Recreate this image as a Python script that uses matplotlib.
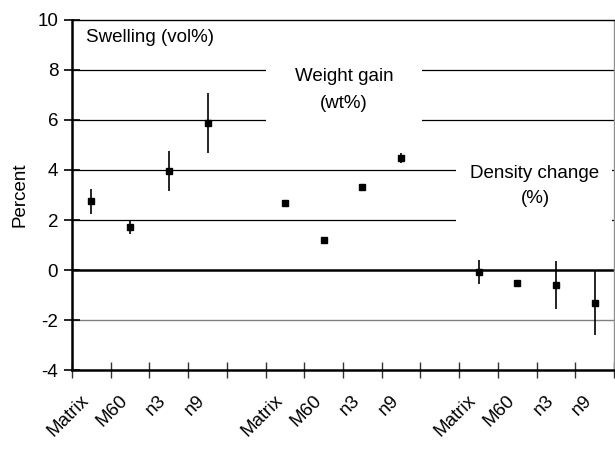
import matplotlib
matplotlib.use("Agg")
import matplotlib.pyplot as plt
from matplotlib.patches import Rectangle
from matplotlib.transforms import ScaledTranslation

plt.rcParams['font.family'] = ['Liberation Sans', 'DejaVu Sans']

# category slots (blank slot separates the three groups)
categories = ["Matrix", "M60", "n3", "n9", "",
              "Matrix", "M60", "n3", "n9", "",
              "Matrix", "M60", "n3", "n9"]

swelling = [2.75, 1.72, 3.97, 5.88]
swelling_err = [0.5, 0.28, 0.8, 1.19]

weight_gain = [2.68, 1.2, 3.33, 4.47]
weight_err = [0.1, 0.04, 0.12, 0.2]

density = [-0.09, -0.51, -0.6, -1.31]
density_err = [0.48, 0.03, 0.95, 1.28]

FS = 13.5

fig = plt.figure(figsize=(6.15, 4.49), dpi=100)
ax = fig.add_axes([0.1171, 0.1759, 0.8813, 0.7796])

groups = [(0, swelling, swelling_err),
          (5, weight_gain, weight_err),
          (10, density, density_err)]
for start, vals, errs in groups:
	xs = list(range(start, start + len(vals)))
	ax.errorbar(xs, vals, yerr=errs, fmt='s', color='black', ms=4.2,
	            elinewidth=1.2, capsize=0, zorder=5)

ax.set_xlim(-0.5, len(categories) - 0.5)
ax.set_ylim(-4, 10)

# gridlines
for level in [2, 4, 6, 8]:
	ax.axhline(level, color='black', lw=0.9, zorder=1)
ax.axhline(-2, color='#808080', lw=1.0, zorder=1)
ax.axhline(0, color='black', lw=1.8, zorder=2)

# white text boxes hiding the gridlines
ax.add_patch(Rectangle((4.51, 5.4), 4.03, 3.2, facecolor='white',
                       edgecolor='none', zorder=3))
ax.add_patch(Rectangle((9.42, 1.5), 4.02, 3.1, facecolor='white',
                       edgecolor='none', zorder=3))

ax.text(-0.14, 9.28, "Swelling (vol%)", fontsize=FS, ha='left', va='center', zorder=4)
ax.text(6.53, 7.2, "Weight gain\n(wt%)", fontsize=FS, ha='center', va='center',
        linespacing=1.8, zorder=4)
ax.text(11.46, 3.36, "Density change\n(%)", fontsize=FS, ha='center', va='center',
        linespacing=1.65, zorder=4)

ax.set_yticks(range(-4, 11, 2))
ax.set_yticklabels([str(v) for v in range(-4, 11, 2)], fontsize=FS)
ax.tick_params(axis='y', direction='inout', length=12, width=1.2, pad=4)

ax.set_xticks(range(len(categories)))
ax.set_xticklabels(categories, rotation=45, ha='right', va='top',
                   rotation_mode='anchor', fontsize=FS)
ax.tick_params(axis='x', which='major', length=0, pad=16)
ax.set_xticks([i - 0.5 for i in range(len(categories) + 1)], minor=True)
ax.tick_params(axis='x', which='minor', direction='inout', length=12, width=1.0,
               color='#333333')
shift = ScaledTranslation(-0.11, 0, fig.dpi_scale_trans)
for lbl in ax.get_xticklabels():
	lbl.set_transform(lbl.get_transform() + shift)

ax.set_ylabel("Percent", fontsize=FS, labelpad=6)

ax.spines['left'].set_linewidth(1.8)
ax.spines['bottom'].set_linewidth(1.8)
ax.spines['top'].set_linewidth(1.0)
ax.spines['right'].set_color('#909090')
ax.spines['right'].set_linewidth(1.0)

fig.savefig("out.png", dpi=100)
